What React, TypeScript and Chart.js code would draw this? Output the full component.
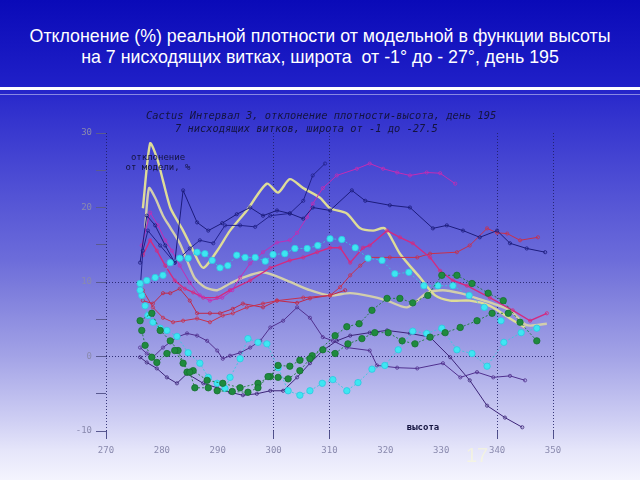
import React, { useEffect, useRef } from "react";
import { Chart, registerables } from "chart.js";

Chart.register(...registerables);

// ---- axes ----
const altitudeTicks = [270, 280, 290, 300, 310, 320, 330, 340, 350];
const deviationTicks = [-10, -5, 0, 5, 10, 15, 20, 25, 30];
const deviationLabels = [-10, 0, 10, 20, 30];
const altitudeGrid = [270, 300, 310, 340, 350];
const deviationGrid = [0, 10];

// ---- series (altitude, km ; deviation, %) ----
const yellow1Alt = [276.6, 277.9, 279.1, 280.2, 281.5, 282.7, 283.8, 285.6, 287.4, 289.9, 292.2, 295.2, 298.8, 300.8, 302.9, 305.3, 308.3, 310.1, 313.1, 315.5, 317.8, 319.9, 322.6, 326.2, 328.9, 331.6, 335.1, 338.7, 342.3, 345.0];
const yellow1Dev = [19.9, 28.6, 26.7, 23.6, 20.0, 18.3, 16.9, 14.2, 11.9, 14.2, 16.9, 19.6, 23.2, 22.0, 23.8, 22.6, 21.3, 19.9, 19.2, 17.2, 16.9, 17.2, 13.8, 10.6, 8.2, 7.5, 7.5, 6.8, 5.1, 3.9];

const yellow2Alt = [277.0, 277.7, 278.8, 280.2, 281.5, 283.2, 284.5, 285.9, 287.7, 289.9, 292.2, 294.5, 298.1, 302.4, 306.5, 310.1, 313.7, 317.2, 320.3, 323.9, 327.4, 330.3, 333.4, 336.4, 339.3, 342.3, 345.3, 348.9];
const yellow2Dev = [17.2, 22.6, 21.3, 18.9, 17.3, 15.2, 12.9, 10.5, 9.3, 8.9, 9.8, 10.6, 11.3, 10.2, 8.9, 8.2, 8.5, 8.1, 7.5, 6.6, 8.5, 8.9, 8.5, 7.8, 7.1, 6.2, 4.2, 4.4];

const navyAAlt = [276.1, 277.3, 278.8, 280.6, 282.3, 283.8, 286.3, 288.3, 290.8, 293.4, 295.8, 298.1, 300.6, 302.9, 305.3, 307.0, 310.1, 314.0, 316.4, 320.8, 324.4, 328.5, 331.0, 333.9, 336.9, 340.0, 342.3, 345.3, 348.6];
const navyADev = [12.6, 18.9, 17.6, 14.9, 12.6, 22.3, 18.0, 16.9, 17.9, 19.1, 20.0, 18.9, 19.6, 19.2, 18.5, 20.0, 19.6, 22.3, 20.9, 20.3, 20.0, 17.2, 17.6, 16.9, 16.0, 16.9, 15.2, 14.5, 14.0];

const navyBAlt = [276.1, 276.6, 277.5, 279.7, 282.3, 285.0, 286.8, 289.2, 291.3, 294.0, 296.7, 299.4, 302.9, 305.3, 307.0, 309.2];
const navyBDev = [8.9, 14.2, 16.9, 14.9, 12.6, 14.5, 15.6, 15.2, 17.6, 17.6, 17.4, 18.9, 19.2, 20.9, 24.3, 25.9];

const magentaAAlt = [276.4, 277.9, 279.3, 280.6, 281.8, 283.2, 285.0, 286.8, 288.6, 290.8, 292.6, 294.0, 295.8, 298.1, 300.6, 302.9, 304.2, 306.0, 307.0, 308.8, 311.3, 314.9, 317.2, 319.6, 322.1, 324.4, 327.4, 329.8, 332.5];
const magentaADev = [14.9, 19.3, 17.6, 15.6, 14.2, 12.2, 9.9, 8.2, 7.5, 7.9, 8.9, 10.6, 12.5, 14.0, 15.3, 15.6, 16.6, 18.7, 20.5, 22.6, 24.3, 25.2, 25.9, 25.2, 24.7, 24.3, 24.7, 24.6, 23.2];

const magentaBAlt = [276.6, 277.9, 279.1, 280.6, 282.3, 284.1, 285.6, 287.4, 289.9, 292.2, 295.8, 299.4, 302.9, 305.3, 307.8, 310.1, 311.9, 313.7, 316.0, 317.2, 320.3, 322.6, 324.9, 328.0, 329.8, 332.1, 334.6, 338.7, 342.8, 345.9, 348.9];
const magentaBDev = [13.6, 15.6, 14.2, 12.2, 10.2, 9.1, 8.6, 7.9, 7.9, 8.9, 10.2, 11.9, 12.9, 13.3, 14.0, 14.6, 14.6, 12.6, 14.6, 14.9, 16.9, 16.0, 15.2, 13.3, 11.5, 10.2, 9.5, 7.9, 6.2, 4.8, 5.8];

const redCAlt = [276.6, 278.4, 280.2, 282.0, 283.8, 286.3, 288.6, 290.9, 292.7, 295.2, 298.1, 300.6, 305.3, 310.1, 311.9, 313.7, 315.5, 317.2, 320.8, 325.7, 328.0, 332.8, 335.1, 338.2, 340.0, 341.8, 344.1, 347.3];
const redCDev = [8.9, 6.6, 5.2, 4.6, 4.8, 5.1, 4.6, 5.5, 5.8, 6.6, 7.1, 7.5, 7.9, 8.2, 9.3, 10.9, 12.2, 13.3, 13.3, 13.3, 13.8, 14.0, 14.9, 17.2, 16.6, 16.5, 15.6, 16.0];

const redDAlt = [276.6, 278.4, 280.2, 281.5, 283.2, 285.0, 286.3, 288.6, 290.4, 292.7, 294.5, 298.1, 300.6, 304.2, 306.5, 310.1, 312.8];
const redDDev = [7.5, 7.1, 8.5, 8.5, 9.1, 7.5, 5.8, 5.8, 5.8, 6.4, 7.1, 6.6, 7.5, 7.2, 7.8, 8.2, 8.9];

const purpleDAlt = [276.1, 277.3, 278.4, 280.2, 282.7, 284.5, 286.3, 288.1, 289.9, 290.9, 292.2, 294.0, 295.8, 297.6, 299.4, 301.7, 304.2, 306.5, 308.8, 310.6, 313.1, 317.2, 318.5, 322.1, 325.7, 330.3, 333.4, 336.4, 339.3, 342.3, 345.0];
const purpleDDev = [1.2, 0.4, -0.1, 1.2, 2.6, 3.1, 2.8, 2.1, 0.8, -0.3, 0.1, 0.5, 1.2, 2.1, 3.9, 4.8, 6.6, 5.2, 2.6, 2.1, 1.2, 0.8, -1.2, -1.5, -1.6, -0.9, -2.8, -2.1, -2.8, -2.6, -3.2];

const purpleEAlt = [276.1, 277.3, 279.1, 280.9, 282.7, 284.5, 287.4, 289.9, 292.2, 294.5, 297.0, 299.4, 301.7, 304.2, 306.5, 308.8, 311.3, 313.7, 317.2, 320.3, 324.4, 328.0, 331.6, 335.1, 338.2, 341.4, 344.5];
const purpleEDev = [-0.1, -0.8, -1.6, -2.8, -3.6, -2.3, -3.6, -4.2, -4.8, -5.2, -5.0, -4.6, -4.6, -2.8, -0.9, 0.8, 2.1, 2.8, 3.2, 3.5, 3.1, 2.6, -0.1, -3.2, -6.6, -8.2, -9.5];

const cyanAAlt = [276.1, 277.3, 278.8, 280.2, 281.5, 283.2, 284.7, 286.3, 287.7, 289.0, 290.4, 291.8, 293.4, 294.9, 296.7, 298.5, 299.9, 302.0, 303.8, 306.0, 307.9, 310.1, 312.2, 314.6, 316.9, 319.4, 321.7, 324.2, 326.9, 329.4, 332.1, 335.0, 337.7, 340.7];
const cyanADev = [8.9, 10.2, 10.6, 10.9, 12.6, 13.2, 13.2, 14.0, 13.8, 12.9, 11.9, 12.2, 13.6, 13.3, 13.3, 12.8, 13.7, 13.8, 14.5, 14.5, 14.9, 15.8, 15.7, 14.6, 13.2, 12.9, 11.1, 11.3, 9.5, 9.5, 9.5, 8.2, 6.6, 4.8];

const cyanBAlt = [276.1, 276.4, 277.0, 277.5, 278.4, 279.7, 280.9, 282.7, 284.7, 286.8, 288.3, 289.9, 291.3, 292.2, 294.0, 295.4, 297.2, 298.8, 300.8, 302.6, 304.7, 306.5, 308.7, 310.6, 313.1, 315.1, 317.6, 319.9, 322.3, 324.9, 327.4, 330.1, 332.8, 335.5, 338.2, 341.2, 344.3, 347.1];
const cyanBDev = [9.8, 8.2, 6.8, 5.5, 4.6, 3.8, 3.5, 2.7, 0.5, -0.9, -2.8, -3.6, -4.3, -2.8, -0.3, 2.4, 1.9, 1.7, -1.5, -4.6, -5.2, -4.6, -3.6, -3.1, -4.6, -3.5, -1.7, -1.2, 0.9, 3.4, 3.1, 3.8, 0.9, 0.4, -1.3, 1.9, 3.2, 3.8];

const greenAAlt = [276.4, 277.0, 278.2, 279.1, 280.9, 282.3, 283.8, 285.0, 285.9, 288.3, 289.9, 292.6, 295.4, 297.2, 299.0, 300.8, 302.6, 304.7, 306.5, 311.0, 313.1, 315.3, 317.6, 320.3, 322.6, 324.9, 327.6, 330.1, 332.8, 335.5, 338.4, 341.1, 344.1, 347.1];
const greenADev = [3.5, 1.5, -0.1, -0.8, 0.4, 0.8, -0.9, -2.1, -4.2, -4.2, -4.6, -4.7, -4.8, -4.2, -2.7, -2.8, -3.0, -1.9, -0.3, 2.8, 4.0, 4.4, 6.2, 7.8, 7.8, 7.2, 8.2, 10.9, 10.9, 9.8, 8.5, 7.5, 4.6, 2.1];

const greenBAlt = [276.1, 278.2, 279.7, 281.5, 282.9, 284.5, 285.6, 288.1, 290.9, 294.0, 297.2, 299.4, 300.8, 302.9, 304.7, 306.9, 308.8, 311.0, 313.3, 315.8, 318.1, 320.5, 323.0, 325.3, 328.0, 330.7, 333.4, 336.4, 339.1, 342.0];
const greenBDev = [4.8, 5.8, 3.5, 2.1, 0.8, -2.1, -1.9, -3.2, -3.6, -4.2, -3.6, -2.7, -1.2, -1.3, -0.5, 0.1, 0.9, 0.4, 1.7, 2.4, 3.2, 3.2, 2.1, 1.7, 2.6, 3.2, 3.9, 4.8, 5.8, 5.8];

const GRID = "rgba(30,30,100,0.85)";
const TICK_TEXT = "#8a8aae";
const MONO = "'DejaVu Sans Mono', 'Liberation Mono', monospace";

function pts(alt: number[], dev: number[]) {
  return alt.map((a, i) => ({ x: a, y: dev[i] }));
}

export default function App() {
  const ref = useRef<HTMLCanvasElement>(null);

  useEffect(() => {
    const canvas = ref.current;
    if (!canvas) return;

    const thin = (color: string) => ({
      borderColor: color,
      borderWidth: 1,
      pointRadius: 1.6,
      pointBorderColor: color,
      pointBackgroundColor: "rgba(0,0,0,0)",
      pointBorderWidth: 0.8,
      tension: 0,
      fill: false,
    });
    const dotted = (line: string, dot: string, edge: string) => ({
      borderColor: line,
      borderWidth: 0.9,
      borderDash: [2, 2],
      pointRadius: 3.2,
      pointBackgroundColor: dot,
      pointBorderColor: edge,
      pointBorderWidth: 0.8,
      tension: 0,
      fill: false,
    });
    const thick = (color: string) => ({
      borderColor: color,
      borderWidth: 2.4,
      pointRadius: 0,
      tension: 0.25,
      fill: false,
    });

    const datasets: any[] = [
      { label: "greenA", data: pts(greenAAlt, greenADev), ...dotted("#1c7a38", "#1e8a3e", "#167030") },
      { label: "greenB", data: pts(greenBAlt, greenBDev), ...dotted("#1c7a38", "#1e8a3e", "#167030") },
      { label: "cyanA", data: pts(cyanAAlt, cyanADev), ...dotted("#38c8e0", "#3ee6f2", "#2cc8e0") },
      { label: "cyanB", data: pts(cyanBAlt, cyanBDev), ...dotted("#38c8e0", "#3ee6f2", "#2cc8e0") },
      { label: "navyA", data: pts(navyAAlt, navyADev), ...thin("#1c1c7c") },
      { label: "navyB", data: pts(navyBAlt, navyBDev), ...thin("#22228a") },
      { label: "magentaA", data: pts(magentaAAlt, magentaADev), ...thin("#c42cb4") },
      { label: "magentaB", data: pts(magentaBAlt, magentaBDev), ...thin("#d42a80"), borderWidth: 1.4 },
      { label: "redC", data: pts(redCAlt, redCDev), ...thin("#c8304c") },
      { label: "redD", data: pts(redDAlt, redDDev), ...thin("#c02848") },
      { label: "purpleD", data: pts(purpleDAlt, purpleDDev), ...thin("#50308e") },
      { label: "purpleE", data: pts(purpleEAlt, purpleEDev), ...thin("#3c2478") },
      { label: "yellow1", data: pts(yellow1Alt, yellow1Dev), ...thick("#dedc98") },
      { label: "yellow2", data: pts(yellow2Alt, yellow2Dev), ...thick("#d2ceac") },
    ];

    const chart = new Chart(canvas, {
      type: "line",
      data: { datasets },
      options: {
        animation: false,
        responsive: false,
        maintainAspectRatio: false,
        events: [],
        layout: { padding: { left: 76, top: 133, right: 87, bottom: 19 } },
        plugins: { legend: { display: false }, tooltip: { enabled: false }, title: { display: false } },
        scales: {
          x: {
            type: "linear",
            min: 270,
            max: 350,
            afterBuildTicks: (s: any) => {
              s.ticks = altitudeTicks.map((v) => ({ value: v }));
            },
            afterFit: (s: any) => {
              s.height = 30;
            },
            border: { display: false, dash: [1, 2] },
            grid: {
              color: (c: any) => (c.tick && altitudeGrid.includes(c.tick.value) ? GRID : "rgba(0,0,0,0)"),
              tickColor: (c: any) => (c.tick && altitudeGrid.includes(c.tick.value) ? "#50508c" : "rgba(0,0,0,0)"),
              lineWidth: 1,
              tickLength: 8,
            },
            ticks: {
              autoSkip: false,
              maxRotation: 0,
              padding: 6,
              color: TICK_TEXT,
              font: { family: MONO, size: 9 },
              callback: (v: any) => String(v),
            },
          },
          y: {
            type: "linear",
            min: -10,
            max: 30,
            afterBuildTicks: (s: any) => {
              s.ticks = deviationTicks.map((v) => ({ value: v }));
            },
            afterFit: (s: any) => {
              s.width = 30;
            },
            border: { display: false, dash: [1, 2] },
            grid: {
              color: (c: any) => (c.tick && deviationGrid.includes(c.tick.value) ? GRID : "rgba(0,0,0,0)"),
              tickColor: "#5a5a90",
              lineWidth: 1,
              tickLength: 10,
            },
            ticks: {
              padding: 4,
              color: TICK_TEXT,
              font: { family: MONO, size: 9 },
              callback: (v: any) => (deviationLabels.includes(Number(v)) ? String(v) : ""),
            },
          },
        },
      },
    });
    return () => chart.destroy();
  }, []);

  const abs = (o: React.CSSProperties): React.CSSProperties => ({ position: "absolute", whiteSpace: "pre", ...o });

  return (
    <div
      style={{
        position: "fixed",
        left: 0,
        top: 0,
        width: 640,
        height: 480,
        overflow: "hidden",
        background:
          "linear-gradient(to bottom, #0a0ab8 0%, #2020c8 18%, #2c2ccc 21%, #4444d2 33%, #6c6cda 54%, #7c7cdc 60%, #a2a2e6 74%, #d0d0f4 88%, #e6e6fa 94%, #f4f4fe 100%)",
      }}
    >
      <div
        style={abs({
          left: 0,
          top: 26,
          width: 640,
          textAlign: "center",
          color: "#ffffff",
          fontFamily: "'Liberation Sans', Arial, sans-serif",
          fontSize: 17.8,
          lineHeight: "21px",
        })}
      >
        {"Отклонение (%) реальной плотности от модельной в функции высоты\nна 7 нисходящих витках, широта  от -1° до - 27°, день 195"}
      </div>
      <div style={abs({ left: 0, top: 87, width: 640, height: 3, background: "#ffffff" })} />
      <div style={abs({ left: 0, top: 94, width: 640, height: 1, background: "rgba(255,255,255,0.45)" })} />
      <canvas ref={ref} width={640} height={480} style={{ position: "absolute", left: 0, top: 0, width: 640, height: 480 }} />
      <div style={abs({ left: 146, top: 109, fontFamily: MONO, fontStyle: "italic", fontSize: 10.4, lineHeight: "12px", color: "#141440" })}>
        {"Cactus Интервал 3, отклонение плотности-высота, день 195"}
      </div>
      <div style={abs({ left: 175, top: 122, fontFamily: MONO, fontStyle: "italic", fontSize: 10.4, lineHeight: "12px", color: "#141440" })}>
        {"7 нисходящих витков, широта от -1 до -27.5"}
      </div>
      <div style={abs({ left: 108, top: 152, width: 100, textAlign: "center", fontFamily: MONO, fontSize: 9, lineHeight: "10px", color: "#141440" })}>
        {"отклонение\nот модели, %"}
      </div>
      <div style={abs({ left: 373, top: 421, width: 100, textAlign: "center", fontFamily: MONO, fontWeight: "bold", fontSize: 9, lineHeight: "12px", color: "#141440" })}>
        {"высота"}
      </div>
      <div style={abs({ left: 466, top: 443, fontFamily: "'Liberation Sans', Arial, sans-serif", fontSize: 20, lineHeight: "24px", color: "rgba(255,255,200,0.45)" })}>
        {"17"}
      </div>
    </div>
  );
}
